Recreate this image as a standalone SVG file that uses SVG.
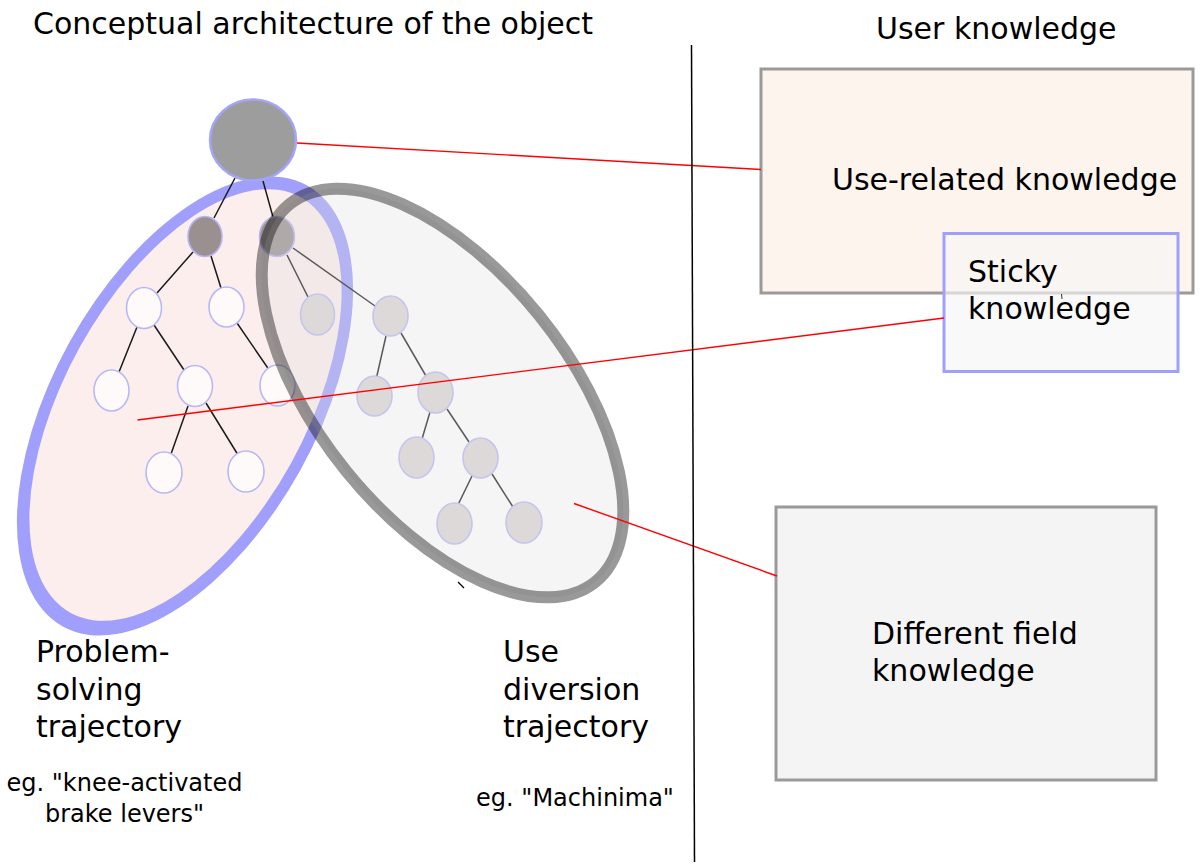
<svg xmlns="http://www.w3.org/2000/svg" width="1200" height="865" viewBox="0 0 1200 865">
  <style>
    text { font-family: "DejaVu Sans", "Liberation Sans", sans-serif; fill: #000; }
    .big { font-size: 30px; }
    .small { font-size: 24px; }
    .edge { stroke: #1a1a1a; stroke-width: 1.5; fill: none; }
    .link { stroke: #ff0000; stroke-width: 1.4; fill: none; }
    .wnode { fill: #fffafa; stroke: #b8b8f4; stroke-width: 1.6; }
    .gnode { fill: #ddd6d6; stroke: #b8b8f4; stroke-width: 1.6; }
    .dnode { fill: #9a9090; stroke: #b4b4f0; stroke-width: 1.6; }
    .box { stroke: #9a9a9a; stroke-width: 3; }
  </style>

  <!-- Problem-solving trajectory region -->
  <g id="problem-solving-region">
    <ellipse cx="185" cy="406" rx="252" ry="132" transform="rotate(-61 185 406)" fill="#a0a0fc"/>
    <ellipse cx="185.5" cy="405" rx="237.5" ry="120.5" transform="rotate(-61 185.5 405)" fill="#fdeeee"/>
  </g>

  <!-- tree edges -->
  <g id="tree-edges">
    <line class="edge" x1="235" y1="178" x2="214" y2="218"/>
    <line class="edge" x1="263" y1="181" x2="273" y2="217"/>
    <line class="edge" x1="193" y1="252" x2="157" y2="293"/>
    <line class="edge" x1="211" y1="256" x2="221" y2="288"/>
    <line class="edge" x1="287" y1="255" x2="308" y2="297"/>
    <line class="edge" x1="293" y1="248" x2="375" y2="306"/>
    <line class="edge" x1="137" y1="327" x2="119" y2="372"/>
    <line class="edge" x1="154" y1="325" x2="184" y2="370"/>
    <line class="edge" x1="237" y1="323" x2="274" y2="377"/>
    <line class="edge" x1="188" y1="406" x2="171" y2="454"/>
    <line class="edge" x1="206" y1="403" x2="243" y2="463"/>
    <line class="edge" x1="386" y1="336" x2="370" y2="406"/>
    <line class="edge" x1="401" y1="333" x2="426" y2="376"/>
    <line class="edge" x1="430" y1="412" x2="422" y2="439"/>
    <line class="edge" x1="447" y1="409" x2="469" y2="442"/>
    <line class="edge" x1="472" y1="476" x2="454" y2="513"/>
    <line class="edge" x1="492" y1="474" x2="513" y2="507"/>
  </g>

  <!-- nodes -->
  <g id="root-node">
    <ellipse cx="253" cy="140" rx="43" ry="40.5" fill="#9d9d9d" stroke="#a4a4fa" stroke-width="2.5"/>
  </g>
  <g id="node-a"><ellipse class="dnode" cx="205" cy="236.5" rx="17" ry="20"/></g>
  <g id="node-b"><ellipse class="dnode" cx="277" cy="236.5" rx="17.5" ry="20"/></g>
  <g id="node-c"><ellipse class="wnode" cx="144" cy="308" rx="17.5" ry="20.5"/></g>
  <g id="node-d"><ellipse class="wnode" cx="226.5" cy="307" rx="17.5" ry="20"/></g>
  <g id="node-e"><ellipse class="gnode" cx="317.5" cy="314.5" rx="17" ry="20.5"/></g>
  <g id="node-f"><ellipse class="gnode" cx="390.5" cy="316" rx="17.5" ry="20"/></g>
  <g id="node-g"><ellipse class="wnode" cx="111.5" cy="390.5" rx="17.5" ry="20.5"/></g>
  <g id="node-h"><ellipse class="wnode" cx="195" cy="386" rx="17.5" ry="20.5"/></g>
  <g id="node-i"><ellipse class="wnode" cx="277.5" cy="385.5" rx="17.5" ry="20.5"/></g>
  <g id="node-j"><ellipse class="gnode" cx="374.5" cy="396" rx="17.5" ry="20"/></g>
  <g id="node-k"><ellipse class="gnode" cx="435.5" cy="392.5" rx="17.5" ry="20.5"/></g>
  <g id="node-l"><ellipse class="wnode" cx="164" cy="472.5" rx="18" ry="20.5"/></g>
  <g id="node-m"><ellipse class="wnode" cx="246" cy="471.5" rx="18" ry="20.5"/></g>
  <g id="node-n"><ellipse class="gnode" cx="416.5" cy="457.5" rx="17.5" ry="20.5"/></g>
  <g id="node-o"><ellipse class="gnode" cx="480.5" cy="458" rx="17.5" ry="20"/></g>
  <g id="node-p"><ellipse class="gnode" cx="454.5" cy="523.5" rx="17.5" ry="20.5"/></g>
  <g id="node-q"><ellipse class="gnode" cx="524" cy="522.5" rx="18" ry="20.5"/></g>

  <!-- Use diversion trajectory region (translucent overlay) -->
  <g id="use-diversion-region">
    <ellipse cx="442.5" cy="393" rx="243" ry="124" transform="rotate(51 442.5 393)" fill="#dfdfdf" fill-opacity="0.32" stroke="#000" stroke-opacity="0.4" stroke-width="12"/>
  </g>
  <line x1="458" y1="582" x2="464" y2="588" stroke="#000" stroke-width="1.2"/>

  <!-- right side boxes -->
  <g id="use-related-knowledge">
    <rect class="box" x="761" y="69" width="432" height="224" fill="#fdf4ee"/>
    <text class="big" x="832" y="190">Use-related knowledge</text>
  </g>
  <g id="sticky-knowledge">
    <rect x="944" y="233.5" width="234" height="138" fill="#f6f6f6" fill-opacity="0.65" stroke="#a0a0fb" stroke-width="3"/>
    <text class="big" x="968" y="282">Sticky</text>
    <text class="big" x="968" y="319">knowledge</text>
    <line x1="1061.5" y1="294" x2="1062" y2="299" stroke="#000" stroke-width="0.8"/>
  </g>
  <g id="different-field-knowledge">
    <rect class="box" x="776" y="507" width="380" height="273" fill="#f4f4f4"/>
    <text class="big" x="872" y="644">Different field</text>
    <text class="big" x="872" y="681">knowledge</text>
  </g>

  <!-- red links -->
  <g id="links">
    <line class="link" x1="297" y1="143" x2="761" y2="169.5"/>
    <line class="link" x1="137.5" y1="420" x2="944" y2="318"/>
    <line class="link" x1="574" y1="503.5" x2="777" y2="576"/>
  </g>

  <!-- divider -->
  <line id="divider" x1="691.5" y1="45" x2="694.5" y2="862" stroke="#000" stroke-width="1.5"/>

  <!-- titles and labels -->
  <g id="labels">
    <text class="big" x="33" y="34">Conceptual architecture of the object</text>
    <text class="big" x="876" y="39">User knowledge</text>
    <text class="big" x="36" y="662">Problem-</text>
    <text class="big" x="36" y="699.5">solving</text>
    <text class="big" x="36" y="737">trajectory</text>
    <text class="big" x="503" y="662">Use</text>
    <text class="big" x="503" y="699.5">diversion</text>
    <text class="big" x="503" y="737">trajectory</text>
    <text class="small" x="124.5" y="791" text-anchor="middle">eg. "knee-activated</text>
    <text class="small" x="124.5" y="822" text-anchor="middle">brake levers"</text>
    <text class="small" x="575" y="806" text-anchor="middle">eg. "Machinima"</text>
  </g>
</svg>
